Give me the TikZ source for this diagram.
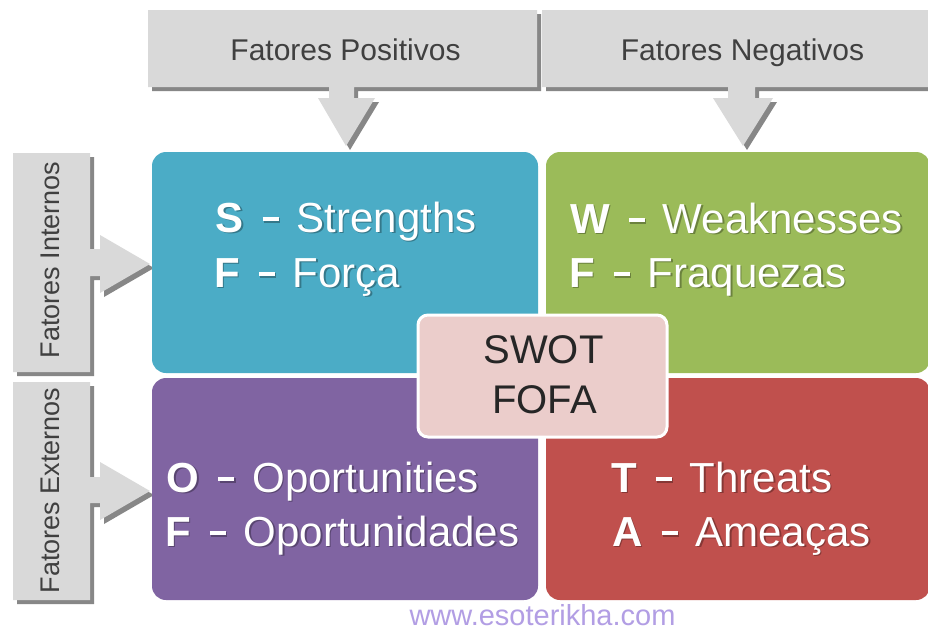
\documentclass[tikz,border=0pt]{standalone}
\usepackage{fontspec}
\setmainfont{Liberation Sans}
\definecolor{qblue}{RGB}{75,172,198}
\definecolor{qgreen}{RGB}{155,187,89}
\definecolor{qpurple}{RGB}{128,100,162}
\definecolor{qred}{RGB}{192,80,77}
\definecolor{hdrfill}{RGB}{217,217,217}
\definecolor{hdrshadow}{RGB}{135,135,135}
\definecolor{hdrtext}{RGB}{64,64,64}
\definecolor{centerfill}{RGB}{235,205,203}
\definecolor{centertext}{RGB}{38,38,38}
\definecolor{wmark}{RGB}{178,158,228}
\newcommand{\qtext}[2]{\textbf{#1}\hspace{19pt}\rule[11pt]{16pt}{4.5pt}\hspace{18pt}#2}
\begin{document}
\begin{tikzpicture}[x=1pt,y=-1pt,
  hdrshape/.style={fill=hdrfill},
  hdrshade/.style={fill=hdrshadow,shift={(4,4)}},
  hdrlabel/.style={inner sep=0pt,anchor=base,text=hdrtext,font=\fontsize{30}{36}\selectfont},
  sidelabel/.style={inner sep=0pt,anchor=base,rotate=90,text=hdrtext,font=\fontsize{27}{33}\selectfont},
  quad/.style={rounded corners=14pt,inner sep=0pt,draw=none},
  qline/.style={inner sep=0pt,anchor=base west,text=white,font=\fontsize{42}{50}\selectfont},
  qshade/.style={inner sep=0pt,anchor=base west,text=black,opacity=0.3,font=\fontsize{42}{50}\selectfont},
  centerbox/.style={rounded corners=10pt,fill=centerfill,draw=white,line width=3pt,inner sep=0pt},
  centerlabel/.style={inner sep=0pt,anchor=base,text=centertext,font=\fontsize{40}{48}\selectfont},
  watermark/.style={inner sep=0pt,anchor=base,text=wmark,font=\fontsize{29}{33}\selectfont}]
\useasboundingbox (0,0) rectangle (928,633);
\fill[white] (0,0) rectangle (928,633);

% ---- grey header callouts: shadows ----
\path[hdrshade] (148,10) -- (537,10) -- (537,87) -- (354,87) -- (354,98) -- (375,98) -- (346,146) -- (318,98) -- (329,98) -- (329,87) -- (148,87) -- cycle;
\path[hdrshade] (542,10) -- (935,10) -- (935,87) -- (755,87) -- (755,98) -- (773,98) -- (743,146) -- (713,98) -- (728,98) -- (728,87) -- (542,87) -- cycle;
\path[hdrshade] (13,153) -- (90,153) -- (90,249) -- (100,249) -- (100,235) -- (150,264) -- (100,293) -- (100,276) -- (90,276) -- (90,372) -- (13,372) -- cycle;
\path[hdrshade] (13,382) -- (90,382) -- (90,477) -- (100,477) -- (100,462) -- (150,491) -- (100,520) -- (100,503) -- (90,503) -- (90,600) -- (13,600) -- cycle;
% ---- grey header callouts: fills ----
\path[hdrshape] (148,10) -- (537,10) -- (537,87) -- (354,87) -- (354,98) -- (375,98) -- (346,146) -- (318,98) -- (329,98) -- (329,87) -- (148,87) -- cycle;
\path[hdrshape] (542,10) -- (935,10) -- (935,87) -- (755,87) -- (755,98) -- (773,98) -- (743,146) -- (713,98) -- (728,98) -- (728,87) -- (542,87) -- cycle;
\path[hdrshape] (13,153) -- (90,153) -- (90,249) -- (100,249) -- (100,235) -- (150,264) -- (100,293) -- (100,276) -- (90,276) -- (90,372) -- (13,372) -- cycle;
\path[hdrshape] (13,382) -- (90,382) -- (90,477) -- (100,477) -- (100,462) -- (150,491) -- (100,520) -- (100,503) -- (90,503) -- (90,600) -- (13,600) -- cycle;

\node[hdrlabel] (pos) at (345.5,60) {Fatores Positivos};
\node[hdrlabel] (neg) at (742.5,60) {Fatores Negativos};
\node[sidelabel] (int) at (59,260) {Fatores Internos};
\node[sidelabel] (ext) at (59,490.5) {Fatores Externos};

% ---- quadrants ----
\node[quad,fill=qblue,minimum width=386pt,minimum height=221pt] (qS) at (345,262.5) {};
\node[quad,fill=qgreen,minimum width=384pt,minimum height=221pt] (qW) at (738,262.5) {};
\node[quad,fill=qpurple,minimum width=386pt,minimum height=222pt] (qO) at (345,489) {};
\node[quad,fill=qred,minimum width=384pt,minimum height=222pt] (qT) at (738,489) {};

% ---- quadrant texts (shadow + text) ----
\node[qshade] (s1sh) at (217,233.5) {\qtext{S}{Strengths}};
\node[qline] (s1) at (215.5,232) {\qtext{S}{Strengths}};
\node[qshade] (s2sh) at (215.5,288.5) {\qtext{F}{Força}};
\node[qline] (s2) at (214,287) {\qtext{F}{Força}};
\node[qshade] (w1sh) at (571.5,234.5) {\qtext{W}{Weaknesses}};
\node[qline] (w1) at (570,233) {\qtext{W}{Weaknesses}};
\node[qshade] (w2sh) at (570.5,288.5) {\qtext{F}{Fraquezas}};
\node[qline] (w2) at (569,287) {\qtext{F}{Fraquezas}};
\node[qshade] (o1sh) at (168,493.5) {\qtext{O}{Oportunities}};
\node[qline] (o1) at (166.5,492) {\qtext{O}{Oportunities}};
\node[qshade] (o2sh) at (166.5,547.5) {\qtext{F}{Oportunidades}};
\node[qline] (o2) at (165,546) {\qtext{F}{Oportunidades}};
\node[qshade] (t1sh) at (612.5,493.5) {\qtext{T}{Threats}};
\node[qline] (t1) at (611,492) {\qtext{T}{Threats}};
\node[qshade] (t2sh) at (613.5,547.5) {\qtext{A}{Ameaças}};
\node[qline] (t2) at (612,546) {\qtext{A}{Ameaças}};

% ---- centre box ----
\node[centerbox,minimum width=249pt,minimum height=122pt] (center) at (542.5,376) {};
\node[centerlabel] (swot) at (543.5,363) {SWOT};
\node[centerlabel] (fofa) at (544.5,413) {FOFA};

% ---- watermark ----
\node[watermark] (wm) at (542.5,625) {www.esoterikha.com};
\end{tikzpicture}
\end{document}
